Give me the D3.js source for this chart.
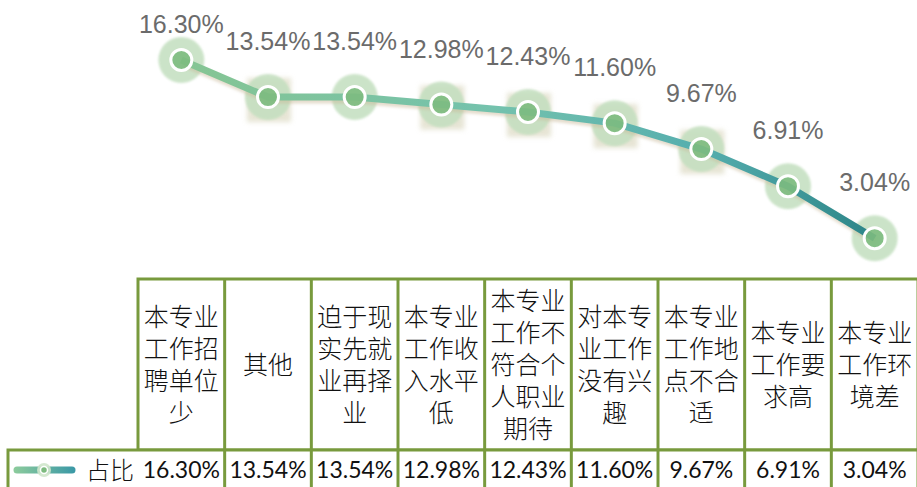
<!DOCTYPE html>
<html lang="zh">
<head>
<meta charset="UTF-8">
<title>占比</title>
<style>
  body { margin: 0; background: #fff; }
  svg { display: block; }
</style>
</head>
<body>
<script src="https://d3js.org/d3.v7.min.js"></script>
<div id="chart"></div>
<script>
// data
const categories = ["本专业工作招聘单位少", "其他", "迫于现实先就业再择业", "本专业工作收入水平低",
  "本专业工作不符合个人职业期待", "对本专业工作没有兴趣", "本专业工作地点不合适", "本专业工作要求高", "本专业工作环境差"];
const values = [16.30, 13.54, 13.54, 12.98, 12.43, 11.60, 9.67, 6.91, 3.04];
const seriesName = "占比";

const W = 917, H = 487;
const tableTop = 279, rowTop = 450, rowBottom = 492;
const tableLeft = 138, tableRight = 918, legendLeft = 8;
const border = "#789a3d";

const svg = d3.select("#chart").append("svg")
  .attr("width", W).attr("height", H);

const x = d3.scaleBand().domain(categories).range([tableLeft, tableRight]);
const y = d3.scaleLinear().domain([0, 16.3]).range([tableTop, 60]);
const cx = d => x(d) + x.bandwidth() / 2;

const defs = svg.append("defs");
const grad = defs.append("linearGradient").attr("id", "lineGrad")
  .attr("gradientUnits", "userSpaceOnUse")
  .attr("x1", cx(categories[0])).attr("x2", cx(categories[categories.length - 1]))
  .attr("y1", 0).attr("y2", 0);
grad.append("stop").attr("offset", "0%").attr("stop-color", "#86c593");
grad.append("stop").attr("offset", "45%").attr("stop-color", "#74c2ad");
grad.append("stop").attr("offset", "75%").attr("stop-color", "#56aeae");
grad.append("stop").attr("offset", "100%").attr("stop-color", "#2c8588");

const legGrad = defs.append("linearGradient").attr("id", "legGrad")
  .attr("gradientUnits", "userSpaceOnUse")
  .attr("x1", 14).attr("x2", 75).attr("y1", 0).attr("y2", 0);
legGrad.append("stop").attr("offset", "0%").attr("stop-color", "#8ccb9c");
legGrad.append("stop").attr("offset", "100%").attr("stop-color", "#3a98a6");

defs.append("filter").attr("id", "blur").attr("x", "-30%").attr("y", "-30%")
  .attr("width", "160%").attr("height", "160%")
  .append("feGaussianBlur").attr("stdDeviation", 2.5);
defs.append("filter").attr("id", "soft").attr("x", "-30%").attr("y", "-30%")
  .attr("width", "160%").attr("height", "160%")
  .append("feGaussianBlur").attr("stdDeviation", 1.2);
defs.append("filter").attr("id", "shadow").attr("x", "-10%").attr("y", "-50%")
  .attr("width", "120%").attr("height", "200%")
  .append("feGaussianBlur").attr("stdDeviation", 1.5);

const pts = categories.map((c, i) => ({ c, v: values[i], i }));

// square glow artefacts behind some markers
const squared = [1, 3, 4, 5, 6];
svg.append("g").selectAll("rect")
  .data(pts.filter(d => squared.includes(d.i)))
  .join("rect")
  .attr("x", d => cx(d.c) - 21).attr("y", d => y(d.v) - 19)
  .attr("width", 44).attr("height", 44)
  .attr("fill", "#d6d3b8").attr("opacity", 0.6)
  .attr("filter", "url(#blur)");

// halos
svg.append("g").selectAll("circle")
  .data(pts).join("circle")
  .attr("cx", d => cx(d.c)).attr("cy", d => y(d.v))
  .attr("r", 23).attr("fill", "#c3dfbf").attr("opacity", 0.85)
  .attr("filter", "url(#soft)");

// line shadow + line
const line = d3.line().x(d => cx(d.c)).y(d => y(d.v));
svg.append("path").datum(pts)
  .attr("d", line).attr("transform", "translate(1,3)")
  .attr("fill", "none").attr("stroke", "#c9b99a").attr("stroke-opacity", 0.5)
  .attr("stroke-width", 7).attr("filter", "url(#shadow)");
svg.append("path").datum(pts)
  .attr("d", line)
  .attr("fill", "none").attr("stroke", "url(#lineGrad)")
  .attr("stroke-width", 7).attr("stroke-linejoin", "round");

// markers
svg.append("g").selectAll("circle")
  .data(pts).join("circle")
  .attr("cx", d => cx(d.c)).attr("cy", d => y(d.v))
  .attr("r", 10.5).attr("fill", "#7dbb7f").attr("fill-opacity", 0.9)
  .attr("stroke", "#fff").attr("stroke-width", 3);

// value labels
svg.append("g").selectAll("text")
  .data(pts).join("text")
  .attr("x", d => cx(d.c))
  .attr("y", d => Math.max(y(d.v) - 47, 33))
  .attr("text-anchor", "middle")
  .attr("font-family", "'Liberation Sans', Arial, sans-serif")
  .attr("font-size", 25).attr("fill", "#6b6b6b")
  .text(d => d.v.toFixed(2) + "%");

// table
const tbl = svg.append("g");
tbl.append("rect").attr("x", tableLeft).attr("y", tableTop)
  .attr("width", tableRight - tableLeft).attr("height", rowTop - tableTop)
  .attr("fill", "#fff").attr("stroke", border).attr("stroke-width", 3);
tbl.append("rect").attr("x", legendLeft).attr("y", rowTop)
  .attr("width", tableRight - legendLeft).attr("height", rowBottom - rowTop)
  .attr("fill", "#fff").attr("stroke", border).attr("stroke-width", 3);
tbl.selectAll("line.col")
  .data(categories.slice(1)).join("line").attr("class", "col")
  .attr("x1", d => x(d)).attr("x2", d => x(d))
  .attr("y1", tableTop).attr("y2", rowBottom)
  .attr("stroke", border).attr("stroke-width", 3);

// header texts, 3 chars per line, one text per cell
const lineH = 32;
const hdr = tbl.append("g")
  .attr("font-family", "'Noto Sans CJK SC', sans-serif")
  .attr("font-weight", 300)
  .attr("font-size", 25).attr("fill", "#111")
  .attr("text-anchor", "middle");
categories.forEach(c => {
  const parts = c.match(/.{1,3}/g);
  const mid = (tableTop + rowTop) / 2;
  const start = mid - (parts.length - 1) * lineH / 2;
  const t = hdr.append("text").attr("y", start);
  parts.forEach((p, k) => {
    t.append("tspan")
      .attr("x", cx(c))
      .attr("dy", k === 0 ? "0.36em" : lineH)
      .text(p);
  });
});

// value row
tbl.append("g").selectAll("text")
  .data(pts).join("text")
  .attr("x", d => cx(d.c)).attr("y", 470).attr("dy", "0.36em")
  .attr("text-anchor", "middle")
  .attr("font-family", "Lato, 'Open Sans', sans-serif")
  .attr("font-size", 23).attr("fill", "#111")
  .text(d => d.v.toFixed(2) + "%");

// legend
const leg = svg.append("g");
leg.append("line").attr("x1", 17).attr("x2", 72).attr("y1", 470).attr("y2", 470)
  .attr("stroke", "url(#legGrad)").attr("stroke-width", 7).attr("stroke-linecap", "round");
leg.append("circle").attr("cx", 44).attr("cy", 470).attr("r", 7).attr("fill", "#cfe6cb").attr("opacity", 0.9);
leg.append("circle").attr("cx", 44).attr("cy", 470).attr("r", 3.5)
  .attr("fill", "#7dbb7f").attr("stroke", "#fff").attr("stroke-width", 1.5);
leg.append("text").attr("x", 86).attr("y", 470).attr("dy", "0.36em")
  .attr("font-family", "'Noto Sans CJK SC', sans-serif").attr("font-weight", 300)
  .attr("font-size", 24).attr("fill", "#111")
  .text(seriesName);
</script>
</body>
</html>
